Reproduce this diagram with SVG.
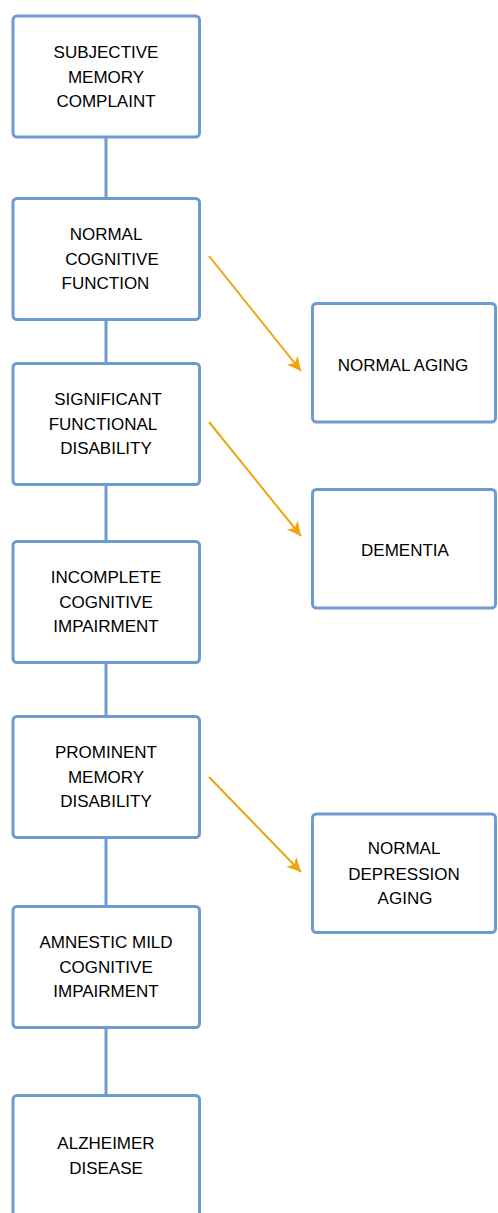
<svg xmlns="http://www.w3.org/2000/svg" width="498" height="1213" viewBox="0 0 498 1213">
<style>
.box{fill:#fff;stroke:#6c9bcf;stroke-width:3}
.t{font-family:"Liberation Sans",Arial,sans-serif;font-size:17px;fill:#000;text-anchor:middle}
.c{stroke:#6c9bcf;stroke-width:3;fill:none}
.a{stroke:#f0a30a;stroke-width:2;fill:none}
</style>
<defs>
<marker id="ah" markerWidth="20" markerHeight="20" viewBox="0 0 20 20" refX="14" refY="10" orient="auto" markerUnits="userSpaceOnUse">
<path d="M0,3 L14,10 L0,17 L4,10 Z" fill="#f0a30a"/>
</marker>
</defs>
<rect width="498" height="1213" fill="#fff"/>
<g id="connectors">
<line class="c" x1="106" y1="137" x2="106" y2="199"/>
<line class="c" x1="106" y1="319" x2="106" y2="364"/>
<line class="c" x1="106" y1="484" x2="106" y2="542"/>
<line class="c" x1="106" y1="662" x2="106" y2="717"/>
<line class="c" x1="106" y1="837" x2="106" y2="907"/>
<line class="c" x1="106" y1="1027" x2="106" y2="1096"/>
<line class="a" x1="209" y1="256" x2="301" y2="371" marker-end="url(#ah)"/>
<line class="a" x1="209" y1="422" x2="301" y2="536" marker-end="url(#ah)"/>
<line class="a" x1="209" y1="777" x2="301" y2="872" marker-end="url(#ah)"/>
</g>
<g id="n1"><rect class="box" x="13" y="16" width="186.5" height="121" rx="4"/>
<text class="t" x="106" y="58">SUBJECTIVE</text><text class="t" x="106" y="83">MEMORY</text><text class="t" x="106" y="107">COMPLAINT</text></g>
<g id="n2"><rect class="box" x="13" y="198.5" width="186.5" height="121" rx="4"/>
<text class="t" x="106" y="240">NORMAL</text><text class="t" x="112" y="265">COGNITIVE</text><text class="t" x="105.5" y="289">FUNCTION</text></g>
<g id="n3"><rect class="box" x="13" y="363.5" width="186.5" height="121" rx="4"/>
<text class="t" x="108" y="405">SIGNIFICANT</text><text class="t" x="103" y="430">FUNCTIONAL</text><text class="t" x="106" y="454">DISABILITY</text></g>
<g id="n4"><rect class="box" x="13" y="541.5" width="186.5" height="121" rx="4"/>
<text class="t" x="106" y="583">INCOMPLETE</text><text class="t" x="106" y="608">COGNITIVE</text><text class="t" x="106" y="632">IMPAIRMENT</text></g>
<g id="n5"><rect class="box" x="13" y="716.5" width="186.5" height="121" rx="4"/>
<text class="t" x="106" y="758">PROMINENT</text><text class="t" x="106" y="783">MEMORY</text><text class="t" x="106" y="807">DISABILITY</text></g>
<g id="n6"><rect class="box" x="13" y="906.5" width="186.5" height="121" rx="4"/>
<text class="t" x="106" y="948">AMNESTIC MILD</text><text class="t" x="106" y="973">COGNITIVE</text><text class="t" x="106" y="997">IMPAIRMENT</text></g>
<g id="n7"><rect class="box" x="13" y="1095.5" width="186.5" height="121" rx="4"/>
<text class="t" x="106" y="1149">ALZHEIMER</text><text class="t" x="106" y="1174">DISEASE</text></g>
<g id="r1"><rect class="box" x="312.5" y="303.5" width="183" height="118.5" rx="4"/>
<text class="t" x="403" y="371">NORMAL AGING</text></g>
<g id="r2"><rect class="box" x="312.5" y="489.5" width="183" height="118.5" rx="4"/>
<text class="t" x="405" y="556">DEMENTIA</text></g>
<g id="r3"><rect class="box" x="312.5" y="814" width="183" height="118.5" rx="4"/>
<text class="t" x="404" y="854">NORMAL</text><text class="t" x="404" y="880">DEPRESSION</text><text class="t" x="405" y="904">AGING</text></g>
</svg>
